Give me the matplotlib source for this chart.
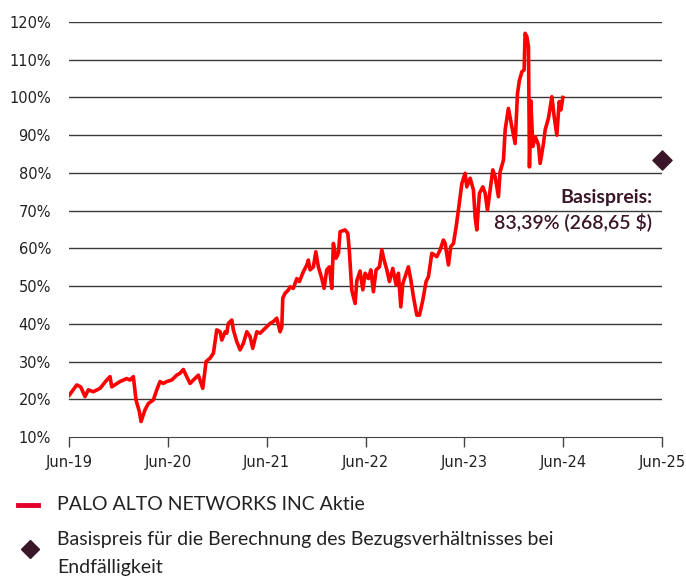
import matplotlib
matplotlib.use("Agg")
import matplotlib.pyplot as plt
from matplotlib.lines import Line2D

# Share price relative to start (decimal year, % level)
years = [
    2019.503, 2019.578, 2019.618, 2019.662, 2019.695, 2019.746, 2019.814, 2019.882,
    2019.915, 2019.932, 2020.016, 2020.084, 2020.117, 2020.151, 2020.178, 2020.212,
    2020.229, 2020.269, 2020.303, 2020.353, 2020.388, 2020.421, 2020.454, 2020.489,
    2020.539, 2020.590, 2020.623, 2020.657, 2020.691, 2020.725, 2020.758, 2020.809,
    2020.853, 2020.887, 2020.927, 2020.961, 2020.995, 2021.028, 2021.046, 2021.079,
    2021.096, 2021.112, 2021.147, 2021.163, 2021.197, 2021.231, 2021.264, 2021.299,
    2021.332, 2021.359, 2021.400, 2021.433, 2021.484, 2021.534, 2021.568, 2021.602,
    2021.636, 2021.653, 2021.663, 2021.686, 2021.720, 2021.737, 2021.770, 2021.805,
    2021.831, 2021.871, 2021.906, 2021.922, 2021.939, 2021.973, 2021.997, 2022.023,
    2022.058, 2022.081, 2022.108, 2022.135, 2022.159, 2022.175, 2022.202, 2022.226,
    2022.243, 2022.293, 2022.321, 2022.337, 2022.361, 2022.395, 2022.412, 2022.445,
    2022.473, 2022.496, 2022.529, 2022.554, 2022.580, 2022.607, 2022.641, 2022.665,
    2022.688, 2022.716, 2022.742, 2022.776, 2022.810, 2022.833, 2022.857, 2022.878,
    2022.901, 2022.934, 2022.959, 2022.985, 2023.019, 2023.046, 2023.080, 2023.113,
    2023.137, 2023.171, 2023.222, 2023.255, 2023.288, 2023.306, 2023.339, 2023.363,
    2023.390, 2023.417, 2023.440, 2023.475, 2023.508, 2023.525, 2023.559, 2023.592,
    2023.609, 2023.626, 2023.653, 2023.687, 2023.711, 2023.734, 2023.761, 2023.788,
    2023.812, 2023.845, 2023.862, 2023.896, 2023.913, 2023.946, 2023.981, 2024.014,
    2024.038, 2024.058, 2024.082, 2024.105, 2024.115, 2024.133, 2024.149, 2024.159,
    2024.173, 2024.193, 2024.217, 2024.250, 2024.267, 2024.301, 2024.318, 2024.351,
    2024.386, 2024.409, 2024.436, 2024.460, 2024.477, 2024.497,
]
level = [
    21.1, 23.8, 23.3, 20.7, 22.5, 22.0, 22.9, 25.1,
    26.0, 23.3, 24.7, 25.5, 25.1, 26.0, 19.8, 16.7,
    14.1, 17.2, 18.9, 19.8, 22.5, 24.7, 24.2, 24.7,
    25.1, 26.4, 26.9, 27.9, 26.0, 24.2, 25.1, 26.4,
    22.9, 30.0, 30.9, 32.2, 38.4, 37.9, 35.7, 37.9,
    37.5, 40.1, 41.0, 38.4, 35.3, 33.1, 34.8, 37.9,
    36.6, 33.5, 37.9, 37.5, 38.8, 40.1, 40.6, 41.5,
    37.9, 39.2, 46.8, 48.1, 49.0, 49.8, 49.4, 52.0,
    51.2, 53.8, 55.6, 56.9, 54.3, 55.1, 59.1, 55.1,
    52.0, 49.4, 54.3, 55.1, 49.4, 61.3, 57.4, 58.7,
    64.4, 64.9, 64.0, 59.1, 48.9, 45.4, 51.4, 54.0,
    49.0, 53.4, 52.0, 54.3, 48.5, 54.3, 55.1, 59.6,
    56.9, 54.3, 51.2, 54.7, 50.3, 53.4, 44.5, 50.7,
    52.5, 55.1, 51.6, 47.2, 42.3, 42.3, 46.3, 51.2,
    52.5, 58.7, 57.8, 59.6, 62.2, 61.3, 55.6, 60.5,
    61.3, 65.7, 70.1, 77.2, 79.9, 76.3, 78.6, 75.5,
    68.4, 64.9, 74.6, 76.3, 74.6, 70.1, 75.5, 80.8,
    79.0, 73.7, 80.3, 83.4, 91.4, 97.1, 92.2, 87.8,
    101.1, 104.6, 106.8, 107.3, 117.0, 116.1, 113.4, 81.6,
    99.1, 87.0, 89.6, 87.4, 82.5, 87.8, 91.4, 94.5,
    100.2, 94.9, 90.0, 98.9, 96.7, 100.0,
]

strike_year = 2025.5
strike_level = 83.39
tick_years = [2019.5, 2020.5, 2021.5, 2022.5, 2023.5, 2024.5, 2025.5]
tick_labels = ["Jun-19", "Jun-20", "Jun-21", "Jun-22", "Jun-23", "Jun-24", "Jun-25"]
y_ticks = [10, 20, 30, 40, 50, 60, 70, 80, 90, 100, 110, 120]

RED = "#ff0000"
PURPLE = "#3b1628"
TXT = "Lato"

fig = plt.figure(figsize=(6.86, 5.77), dpi=100)
ax = fig.add_axes([0.1006, 0.2426, 0.8644, 0.7193])

for v in y_ticks[1:]:
    ax.axhline(v, color="#3a3a3a", lw=1.0, zorder=1)

ax.plot(years, level, color=RED, lw=2.6, solid_joinstyle="round", zorder=3)
ax.scatter([strike_year], [strike_level], marker="D", s=95, color=PURPLE,
           zorder=4, clip_on=False)

ax.text(2025.4, 73.6, "Basispreis:", ha="right", va="center", color=PURPLE,
        fontsize=14, fontweight="bold", family=TXT)
ax.text(2025.4, 67.0, "83,39% (268,65 $)", ha="right", va="center", color=PURPLE,
        fontsize=14, fontweight="semibold", family=TXT)

ax.set_xlim(2019.5, 2025.5)
ax.set_ylim(10, 120)
ax.set_xticks(tick_years)
ax.set_xticklabels(tick_labels)
ax.set_yticks(y_ticks)
ax.set_yticklabels([f"{v}%" for v in y_ticks])
for s in ["top", "right", "left"]:
    ax.spines[s].set_visible(False)
ax.spines["bottom"].set_color("#444444")
ax.tick_params(axis="x", length=7, width=1, color="#444444", pad=6,
               labelsize=10.5, labelcolor="#222222")
ax.tick_params(axis="y", length=0, pad=13, labelsize=10.5, labelcolor="#222222")

# Legend drawn manually below the chart
fig.add_artist(Line2D([0.026, 0.055], [1 - 505 / 577] * 2, color="#e4002b",
                      lw=3.5, transform=fig.transFigure))
fig.text(0.083, 1 - 505 / 577, "PALO ALTO NETWORKS INC Aktie", va="center",
         fontsize=14, family=TXT, color="#222222")
fig.add_artist(Line2D([0.044], [1 - 549 / 577], marker="D", markersize=9,
                      color=PURPLE, transform=fig.transFigure))
fig.text(0.083, 1 - 540 / 577, "Basispreis für die Berechnung des Bezugsverhältnisses bei",
         va="center", fontsize=14, family=TXT, color="#222222")
fig.text(0.083, 1 - 567 / 577, "Endfälligkeit", va="center", fontsize=14,
         family=TXT, color="#222222")

fig.savefig("out.png", dpi=100)
